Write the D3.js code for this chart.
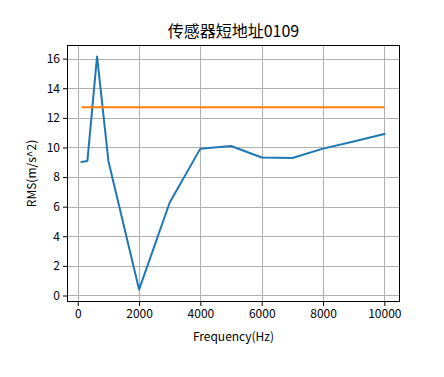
<!DOCTYPE html>
<html><head><meta charset="utf-8">
<script src="https://cdn.jsdelivr.net/npm/d3@7"></script>
<style>body{margin:0;background:#fff}</style>
</head><body><svg id="c" width="444" height="377"></svg>
<script>
const title = "传感器短地址0109";
const xLabel = "Frequency(Hz)";
const yLabel = "RMS(m/s^2)";
const freqs = [125, 315, 630, 1000, 2000, 3000, 4000, 5000, 6000, 7000, 8000, 9000, 10000];
const rms = [9.02, 9.09, 16.15, 9.09, 0.4, 6.28, 9.92, 10.1, 9.32, 9.29, 9.92, 10.4, 10.91];
const limitValue = 12.71;
const xTicks = [0, 2000, 4000, 6000, 8000, 10000];
const yTicks = [0, 2, 4, 6, 8, 10, 12, 14, 16];

const font = "'Noto Sans CJK SC', sans-serif";
const svg = d3.select("#c");
const L = 67, R = 400, T = 45, B = 302;
const x = d3.scaleLinear().domain([-350, 10510]).range([L, R]);
const y = d3.scaleLinear().domain([-0.44, 16.92]).range([B, T]);

// grid
svg.append("g").selectAll("line").data(xTicks).join("line")
  .attr("x1", d => Math.round(x(d)) + 0.5).attr("x2", d => Math.round(x(d)) + 0.5)
  .attr("y1", T).attr("y2", B).attr("stroke", "#b0b0b0").attr("stroke-width", 1);
svg.append("g").selectAll("line").data(yTicks).join("line")
  .attr("y1", d => Math.round(y(d)) + 0.5).attr("y2", d => Math.round(y(d)) + 0.5)
  .attr("x1", L).attr("x2", R).attr("stroke", "#b0b0b0").attr("stroke-width", 1);

// lines
const line = d3.line().x(d => x(d[0])).y(d => y(d[1]));
svg.append("path").datum(freqs.map((f, i) => [f, rms[i]]))
  .attr("d", line).attr("fill", "none").attr("stroke", "#1f77b4").attr("stroke-width", 2)
  .attr("stroke-linejoin", "round").attr("stroke-linecap", "square");
svg.append("path").datum([[freqs[0], limitValue], [freqs[freqs.length - 1], limitValue]])
  .attr("d", line).attr("fill", "none").attr("stroke", "#ff7f0e").attr("stroke-width", 2);

// axes
const xAxis = d3.axisBottom(x).tickValues(xTicks).tickFormat(d3.format("d")).tickSizeOuter(0).tickSize(4).tickPadding(3);
const yAxis = d3.axisLeft(y).tickValues(yTicks).tickFormat(d3.format("d")).tickSizeOuter(0).tickSize(4).tickPadding(3);
const gx = svg.append("g").attr("transform", `translate(0,${B})`).call(xAxis);
const gy = svg.append("g").attr("transform", `translate(${L},0)`).call(yAxis);
[gx, gy].forEach(g => {
  g.select(".domain").remove();
  g.selectAll("text").attr("font-family", font).attr("font-size", 12).attr("fill", "#000");
  g.selectAll("line").attr("stroke", "#000");
});

// frame
svg.append("rect").attr("x", L + 0.5).attr("y", T + 0.5).attr("width", R - L - 1).attr("height", B - T - 1)
  .attr("fill", "none").attr("stroke", "#000").attr("stroke-width", 1);

svg.append("text").attr("x", (L + R) / 2).attr("y", 37).attr("text-anchor", "middle")
  .attr("font-family", font).attr("font-size", 16).text(title);
svg.append("text").attr("x", (L + R) / 2).attr("y", 341).attr("text-anchor", "middle")
  .attr("font-family", font).attr("font-size", 12).text(xLabel);
svg.append("text").attr("transform", `translate(36,${(T + B) / 2}) rotate(-90)`).attr("text-anchor", "middle")
  .attr("font-family", font).attr("font-size", 12).text(yLabel);
</script></body></html>
